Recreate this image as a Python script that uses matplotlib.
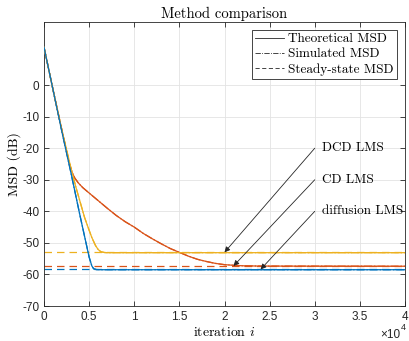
import matplotlib
matplotlib.use('Agg')
import matplotlib.pyplot as plt
from matplotlib.lines import Line2D

plt.rcParams['mathtext.fontset'] = 'cm'

# theoretical MSD curves (iteration, dB)
it_diff = [0, 1000, 2000, 3000, 4000, 5000, 5300, 5500, 5800, 6500, 40000]
msd_diff = [12, -1.5, -15, -28, -41.5, -54.5, -57.3, -58.2, -58.45, -58.5, -58.5]

it_cd = [0, 1000, 2000, 2500, 2800, 3100, 3400, 3800, 4300, 5000, 6000, 7000, 8000, 9000,
         10000, 11000, 12000, 13000, 14000, 15000, 16000, 17000, 18000, 19000,
         20000, 21000, 22000, 24000, 40000]
msd_cd = [12, -1.5, -14.5, -21, -24.8, -27.6, -29.4, -31, -32.5, -34.2, -36.6, -39, -41.3, -43.3,
          -45, -47, -48.7, -50.3, -51.8, -53, -54.2, -55.2, -55.9, -56.5,
          -56.9, -57.1, -57.25, -57.35, -57.4]

it_dcd = [0, 1000, 2000, 2500, 3000, 3500, 4000, 4500, 5000, 5300, 5700, 6000, 6300, 6700, 7000, 40000]
msd_dcd = [12, -1.5, -14.5, -20.5, -26.5, -32, -37, -42, -46, -48.3, -50.8, -52.1, -52.8, -53.05, -53.1, -53.1]

# steady-state values
ss_diff = -58.4
ss_cd = -57.3
ss_dcd = -53.0

colors = {'diff': '#0072BD', 'cd': '#D95319', 'dcd': '#EDB120'}
xticks = [0, 5000, 10000, 15000, 20000, 25000, 30000, 35000, 40000]
xticklabels = ['0', '0.5', '1', '1.5', '2', '2.5', '3', '3.5', '4']
yticks = [-70, -60, -50, -40, -30, -20, -10, 0]
yticklabels = ['-70', '-60', '-50', '-40', '-30', '-20', '-10', '0']

serif = 'cmr10'

fig = plt.figure(figsize=(4.09, 3.41), dpi=100)
ax = fig.add_axes([0.1076, 0.1026, 0.8826, 0.833])

# steady-state (dashed, full width, underneath)
for ss, c in [(ss_dcd, 'dcd'), (ss_cd, 'cd'), (ss_diff, 'diff')]:
    ax.plot([0, 40000], [ss, ss], color=colors[c], lw=0.9, ls=(0, (6, 4)), zorder=2)

# simulated (dash-dot) and theoretical (solid)
for it, v, c in [(it_cd, msd_cd, 'cd'), (it_dcd, msd_dcd, 'dcd'), (it_diff, msd_diff, 'diff')]:
    ax.plot(it, v, color=colors[c], lw=0.9, ls='-.', zorder=3)
    ax.plot(it, v, color=colors[c], lw=0.9, ls='-', zorder=4)

ax.set_xlim(0, 40000)
ax.set_ylim(-70, 20)
ax.set_xticks(xticks)
ax.set_xticklabels(xticklabels, family='Liberation Sans', fontsize=8.5)
ax.set_yticks(yticks)
ax.set_yticklabels(yticklabels, family='Liberation Sans', fontsize=8.5)
ax.tick_params(direction='in', length=3.5, width=0.6, colors='#262626', top=True, right=True)
ax.grid(True, color='#e3e3e3', lw=0.6)
ax.set_axisbelow(True)
for s in ax.spines.values():
    s.set_color('#262626')
    s.set_linewidth(0.6)

ax.set_title('Method comparison', family=serif, fontsize=10.5, pad=3)
ax.set_xlabel('iteration $i$', family=serif, fontsize=10, labelpad=2)
ax.set_ylabel('MSD (dB)', family=serif, fontsize=10, labelpad=1)
# exponent marker, bottom right
fig.text(400 / 409, 2.5 / 341, '×10', ha='right', va='baseline',
         fontsize=8.5, family='Liberation Sans', color='#262626')
fig.text(401 / 409, 10.5 / 341, '4', ha='left', va='baseline',
         fontsize=6.5, family='Liberation Sans', color='#262626')

handles = [Line2D([], [], color='#262626', lw=0.6, ls='-'),
           Line2D([], [], color='#262626', lw=0.6, ls='-.'),
           Line2D([], [], color='#262626', lw=0.6, ls=(0, (5, 3)))]
leg = ax.legend(handles, ['Theoretical MSD', 'Simulated MSD', 'Steady-state MSD'],
                loc='upper right', prop={'family': serif, 'size': 9.5},
                fancybox=False, edgecolor='#262626', framealpha=1,
                handlelength=2.2, handletextpad=0.3, borderpad=0.25, labelspacing=0.2,
                borderaxespad=0.6)
leg.get_frame().set_linewidth(0.6)

# annotations
labels = ['DCD LMS', 'CD LMS', 'diffusion LMS']
tails = [(30000, -20), (30000, -30), (30000, -40)]
heads = [(20000, ss_dcd), (21000, ss_cd), (24000, ss_diff)]
for lab, t, h in zip(labels, tails, heads):
    ax.annotate('', xy=h, xytext=t,
                arrowprops=dict(arrowstyle='-|>', color='#262626', lw=0.6,
                                mutation_scale=8, shrinkA=0, shrinkB=0), zorder=6)
    ax.text(t[0] + 800, t[1], lab, family=serif, fontsize=9.5, ha='left', va='center')

fig.savefig('out.png', dpi=100)
